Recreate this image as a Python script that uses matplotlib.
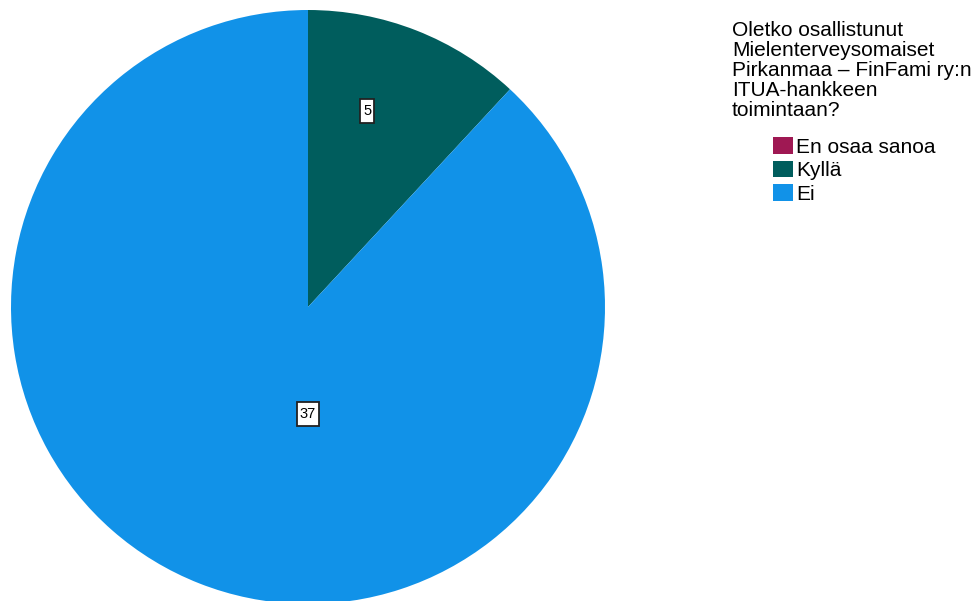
import matplotlib.pyplot as plt
from matplotlib.patches import Patch
from matplotlib.path import Path

plt.rcParams['font.family'] = ['Liberation Sans', 'DejaVu Sans']

# data
labels = ['En osaa sanoa', 'Kyllä', 'Ei']
counts = [0, 5, 37]
colors = ['#9f1853', '#005d5d', '#1192e8']
title = 'Oletko osallistunut\nMielenterveysomaiset\nPirkanmaa – FinFami ry:n\nITUA-hankkeen\ntoimintaan?'

W, H = 973, 601
fig = plt.figure(figsize=(W / 100, H / 100), dpi=100)

# pie centre ~ (308, 307) px, radius ~ 297 px
cx, cy, r = 308, 307, 297
ax = fig.add_axes([(cx - r) / W, 1 - (cy + r) / H, 2 * r / W, 2 * r / H])
ax.pie(counts, colors=colors, startangle=90, counterclock=False, radius=1,
       wedgeprops=dict(linewidth=0))
ax.set_xlim(-1, 1)
ax.set_ylim(-1, 1)
ax.set_aspect('equal')
ax.axis('off')


def tall_box(x0, y0, width, height, mutation_size):
    # SPSS-like label box: narrow sides, more room above and below
    px, py = 0.2 * mutation_size, 0.35 * mutation_size
    x1, y1 = x0 + width + px, y0 + height + py
    x0, y0 = x0 - px, y0 - py
    return Path([(x0, y0), (x1, y0), (x1, y1), (x0, y1), (x0, y0)], closed=True)


# value labels (positions as SPSS places them)
label_pos = {'Kyllä': (0.20, 0.66), 'Ei': (0.0, -0.36)}
for lab, val in zip(labels, counts):
    if lab in label_pos:
        x, y = label_pos[lab]
        ax.text(x, y, str(val), ha='center', va='center', fontsize=10.5,
                bbox=dict(boxstyle=tall_box, fc='white', ec='#222222', lw=1.3))

fig.text(732 / W, 1 - 21 / H, title, ha='left', va='top', fontsize=15,
         linespacing=1.06)

handles = [Patch(facecolor=c, edgecolor='none') for c in colors]
fig.legend(handles, labels, loc='upper left', bbox_to_anchor=(773 / W, 1 - 137 / H),
           frameon=False, fontsize=15, handlelength=0.95, handleheight=0.85,
           handletextpad=0.15, labelspacing=0.2, borderpad=0, borderaxespad=0)

fig.savefig('out.png', dpi=100)
